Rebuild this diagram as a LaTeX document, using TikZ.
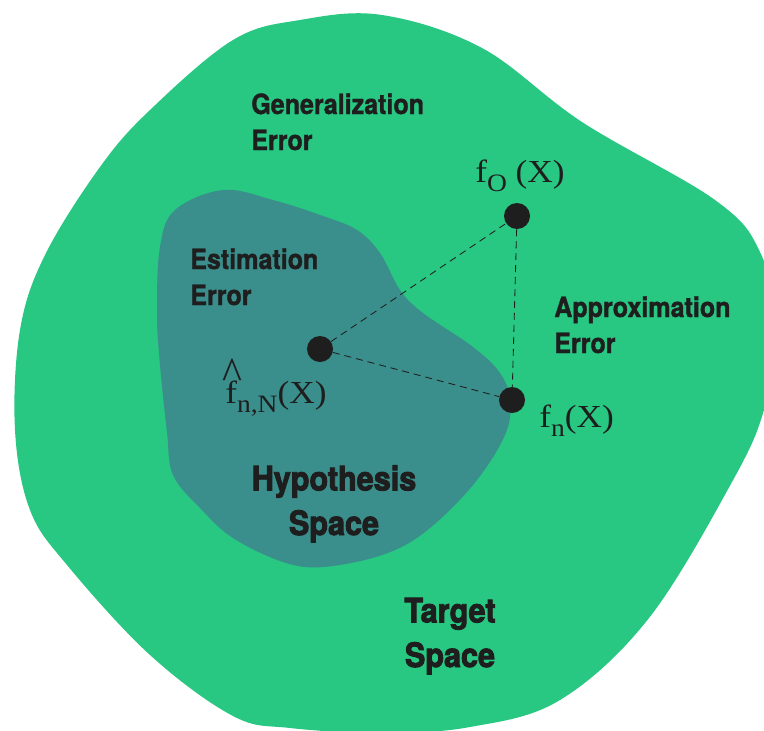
\documentclass[tikz,border=0pt]{standalone}
\usepackage{fontspec}
\setmainfont{Liberation Serif}
\newfontfamily\errfont[FakeStretch=0.9,FakeBold=1.2]{TeX Gyre Heros}
\newfontfamily\spacefont[FakeStretch=0.91,FakeBold=2.6]{TeX Gyre Heros}
\newfontfamily\mathlabfont[FakeStretch=1.1]{Liberation Serif}
\definecolor{TargetGreen}{HTML}{28C782}
\definecolor{HypoTeal}{HTML}{3A8E8B}
\definecolor{InkDark}{HTML}{1E1E1E}
\newcommand{\fsub}[1]{\raisebox{-0.31em}{\fontsize{17.8}{18}\selectfont #1}}
\newcommand{\fhat}{\makebox[0pt][l]{\hspace{-0.1em}\raisebox{0.42em}{\scalebox{1.2}[1.45]{\textasciicircum}}}f}

\begin{document}
\begin{tikzpicture}[
  x=0.025cm, y=-0.025cm,
  errlabel/.style={
    font=\errfont\bfseries\fontsize{19.8}{25.6}\selectfont,
    text=InkDark,
    align=left,
    inner sep=0pt,
    anchor=base west
  },
  spacelabel/.style={
    font=\spacefont\bfseries\fontsize{23.9}{31.7}\selectfont,
    text=InkDark,
    align=center,
    inner sep=0pt,
    anchor=base
  },
  fnlabel/.style={font=\mathlabfont\fontsize{22.8}{26}\selectfont,text=InkDark,inner sep=0pt,anchor=base west},
  point/.style={circle,fill=InkDark,minimum size=0.65cm,inner sep=0pt},
  gap/.style={draw=InkDark,line width=0.6pt,dash pattern=on 5pt off 3.5pt}
]
  \useasboundingbox (0,0) rectangle (764,731);
  \clip (0,0) rectangle (764,731);

  % target space
  \fill[TargetGreen] plot[smooth cycle,tension=0.6] coordinates {
    (382,15) (482,48) (582,122) (715,200) (760,252) (778,330) (764,410)
    (732,482) (649,618) (560,700) (470,727) (382,733) (290,728) (233,716)
    (150,655) (67,565) (30,510) (15,430) (20,330) (45,255) (100,167)
    (150,110) (233,40) (300,20)};

  % hypothesis space
  \fill[HypoTeal] plot[smooth cycle,tension=0.6] coordinates {
    (223,190) (273,200) (323,216) (357,230) (380,253) (400,290) (423,313)
    (473,347) (500,373) (510,400) (505,435) (473,485) (425,532) (382,555)
    (323,567) (283,562) (233,538) (200,508) (173,475) (167,432) (160,365)
    (157,313) (160,247) (175,210)};

  % labels sit on the baseline of their last line
  \node[errlabel] (generr) at (251,150) {Generalization\\Error};
  \node[errlabel] (esterr) at (190,305) {Estimation\\Error};
  \node[errlabel] (approxerr) at (554,353) {Approximation\\Error};
  \node[spacelabel] (hypo) at (334,535) {Hypothesis\\Space};
  \node[spacelabel] (target) at (450,667) {Target\\Space};

  \node[point] (fhat) at (320,349) {};
  \node[point] (fopt) at (517,216) {};
  \node[point] (fn) at (512,400) {};

  \draw[gap] (fhat) -- (fopt);
  \draw[gap] (fhat) -- (fn);
  \draw[gap] (fopt) -- (fn);

  \node[fnlabel] (fhatlab) at (225,403) {\fhat\fsub{n,N}(X)};
  \node[fnlabel] (foptlab) at (475,182) {f\fsub{O} (X)};
  \node[fnlabel] (fnlab) at (539,427) {f\fsub{n}(X)};
\end{tikzpicture}
\end{document}
